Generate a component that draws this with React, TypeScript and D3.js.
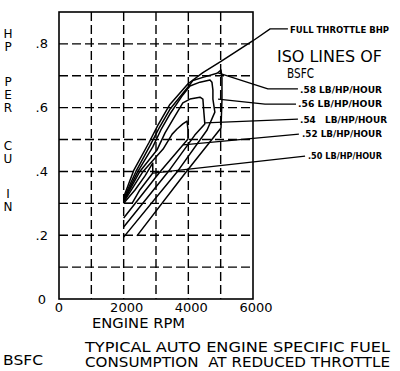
import React from "react";
import * as d3 from "d3";

// axis ticks
const xTicks = [0, 2000, 4000, 6000];
const xTickLabels = ["0", "2000", "4000", "6000"];
const yTicks = [0, 0.2, 0.4, 0.6, 0.8];
const yTickLabels = ["0", ".2", ".4", ".6", ".8"];
const xGrid = [1000, 2000, 3000, 4000, 5000];
const yGrid = [0.1, 0.2, 0.3, 0.4, 0.5, 0.6, 0.7, 0.8];

// full throttle BHP curve (rpm, hp per cu in)
const fullThrottle: [number, number][] = [
  [2000, 0.32], [2320, 0.405], [2780, 0.49], [3060, 0.545], [3430, 0.61],
  [3990, 0.675], [4450, 0.71], [5010, 0.745], [6000, 0.81],
];

// iso BSFC lines
const bsfc58: [number, number][] = [
  [2000, 0.315], [2380, 0.4], [2810, 0.48], [3090, 0.535], [3430, 0.595],
  [3990, 0.665], [4140, 0.685], [4450, 0.695], [4890, 0.708], [5010, 0.718],
  [5040, 0.693], [5040, 0.624], [5010, 0.536], [3930, 0.398], [2410, 0.198],
];
const bsfc56: [number, number][] = [
  [2000, 0.31], [2440, 0.4], [2900, 0.477], [3150, 0.53], [3430, 0.58],
  [3830, 0.64], [4050, 0.668], [4360, 0.68], [4670, 0.687], [4730, 0.68],
  [4760, 0.655], [4760, 0.627], [4820, 0.586], [4580, 0.53], [3650, 0.398], [2000, 0.194],
];
const bsfc54: [number, number][] = [
  [2000, 0.307], [2500, 0.4], [3030, 0.467], [3280, 0.521], [3530, 0.564],
  [3830, 0.615], [4050, 0.627], [4360, 0.633], [4450, 0.627],
  [4480, 0.586], [4510, 0.549], [4200, 0.514], [3370, 0.398], [2000, 0.226],
];
const bsfc52: [number, number][] = [
  [2000, 0.304], [2600, 0.4], [3220, 0.47], [3500, 0.517], [3650, 0.533],
  [3830, 0.549], [3960, 0.558], [3990, 0.53], [3990, 0.502], [3120, 0.398], [2000, 0.254],
];
const bsfc50: [number, number][] = [
  [2000, 0.3], [2350, 0.342], [2660, 0.386], [2810, 0.411], [2900, 0.426],
  [2900, 0.395], [2500, 0.342], [2260, 0.3], [2000, 0.3],
];

// leader lines (rpm, hp) from curve to label
const leaderFull: [number, number][] = [[6000, 0.81], [6530, 0.847], [7080, 0.847]];
const leader58: [number, number][] = [[4920, 0.709], [6460, 0.659], [7390, 0.659]];
const leader56: [number, number][] = [[4920, 0.627], [6370, 0.611], [7330, 0.611]];
const leader54: [number, number][] = [[4520, 0.552], [7390, 0.564]];
const leader52: [number, number][] = [[3840, 0.483], [7420, 0.517]];
const leader50: [number, number][] = [[2910, 0.395], [7610, 0.448]];

const bsfcValues = [".58", ".56", ".54", ".52", ".50"];
const unitLabel = "LB/HP/HOUR";
const yLabelWords = ["HP", "PER", "CU", "IN"];

const W = 400;
const H = 371;
const FONT = "'DejaVu Sans', 'Liberation Sans', sans-serif";
const NB = "\u00a0";

export default function App() {
  const x = d3.scaleLinear().domain([0, 6000]).range([59, 253]);
  const y = d3.scaleLinear().domain([0, 0.9]).range([299, 12]);
  const line = d3
    .line<[number, number]>()
    .x((d) => x(d[0]))
    .y((d) => y(d[1]))
    .curve(d3.curveLinear);

  const curves = [fullThrottle, bsfc58, bsfc56, bsfc54, bsfc52, bsfc50];
  const leaders = [leaderFull, leader58, leader56, leader54, leader52, leader50];

  // label layout
  const labelPos = [
    { x: 300, y: 93, w: 82 },
    { x: 298, y: 107, w: 84 },
    { x: 300, y: 123, w: 87 },
    { x: 302, y: 137, w: 80 },
    { x: 308, y: 159, w: 74 },
  ];
  const wordTop = [26.5, 74.5, 138.5, 186.5];

  return (
    <svg
      width={W}
      height={H}
      style={{ position: "absolute", left: 0, top: 0, background: "#fff" }}
      fontFamily={FONT}
    >
      <rect x={0} y={0} width={W} height={H} fill="#fff" />
      {/* grid */}
      <g stroke="#000" strokeWidth={1.4} strokeDasharray="9,4">
        {xGrid.map((v) => (
          <line key={"gx" + v} x1={x(v)} x2={x(v)} y1={y(0.9)} y2={y(0)} />
        ))}
        {yGrid.map((v) => (
          <line key={"gy" + v} x1={x(0)} x2={x(6000)} y1={y(v)} y2={y(v)} />
        ))}
      </g>
      {/* frame */}
      <rect
        x={x(0)}
        y={y(0.9)}
        width={x(6000) - x(0)}
        height={y(0) - y(0.9)}
        fill="none"
        stroke="#000"
        strokeWidth={1.6}
      />
      {/* curves */}
      <g fill="none" stroke="#000" strokeWidth={1.5} strokeLinejoin="round">
        {curves.map((c, i) => (
          <path key={"c" + i} d={line(c) || ""} />
        ))}
        {leaders.map((c, i) => (
          <path key={"l" + i} d={line(c) || ""} strokeWidth={1.3} />
        ))}
      </g>
      {/* tick labels */}
      <g fontSize={13} fill="#000">
        {xTicks.map((v, i) => (
          <text key={"xt" + v} x={x(v) + (i === 0 ? 0 : 3)} y={312} textAnchor="middle">
            {xTickLabels[i]}
          </text>
        ))}
        {yTicks.map((v, i) => (
          <text key={"yt" + v} x={i === 0 ? 46 : 48} y={y(v) + 4.5} textAnchor="end">
            {yTickLabels[i]}
          </text>
        ))}
      </g>
      {/* axis titles */}
      <text x={92} y={328} fontSize={14} textLength={93} lengthAdjust="spacingAndGlyphs">
        ENGINE RPM
      </text>
      <g fontSize={12}>
        {yLabelWords.map((w, i) => (
          <text
            key={"yw" + i}
            x={8}
            y={wordTop[i]}
            style={{ writingMode: "vertical-rl", textOrientation: "upright", letterSpacing: "-1px" } as any}
          >
            {w}
          </text>
        ))}
      </g>
      {/* annotations */}
      <text x={290} y={33} fontSize={9} fontWeight="bold" textLength={99} lengthAdjust="spacingAndGlyphs">
        FULL THROTTLE BHP
      </text>
      <text x={277} y={62} fontSize={15} textLength={105} lengthAdjust="spacingAndGlyphs">
        ISO LINES OF
      </text>
      <text x={287} y={78} fontSize={14} textLength={27} lengthAdjust="spacingAndGlyphs">
        BSFC
      </text>
      {bsfcValues.map((v, i) => (
        <text
          key={"bl" + i}
          x={labelPos[i].x}
          y={labelPos[i].y}
          fontSize={9}
          fontWeight="bold"
          textLength={labelPos[i].w}
          lengthAdjust="spacingAndGlyphs"
        >
          {v + (i === 2 ? NB + NB + NB : NB) + unitLabel}
        </text>
      ))}
      {/* bottom captions */}
      <text x={3} y={365} fontSize={14} textLength={40} lengthAdjust="spacingAndGlyphs">
        BSFC
      </text>
      <text x={85} y={352} fontSize={14.5} textLength={305} lengthAdjust="spacingAndGlyphs">
        TYPICAL AUTO ENGINE SPECIFIC FUEL
      </text>
      <text x={85} y={367} fontSize={14.5} textLength={305} lengthAdjust="spacingAndGlyphs">
        {"CONSUMPTION" + NB + NB + "AT REDUCED THROTTLE"}
      </text>
    </svg>
  );
}
